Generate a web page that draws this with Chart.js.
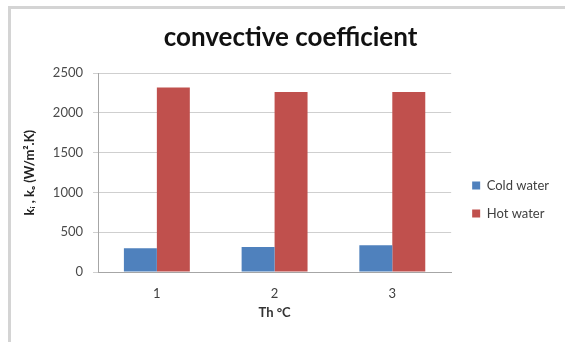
<!DOCTYPE html>
<html><head><meta charset="utf-8">
<script src="https://cdn.jsdelivr.net/npm/chart.js@4"></script>
<style>html,body{margin:0;padding:0;background:#fff;}#wrap{position:relative;width:565px;height:342px;}</style>
</head><body><div id="wrap"><canvas id="c" width="565" height="342"></canvas></div>
<script>
const categories = ['1', '2', '3'];
const coldWater = [300, 315, 335];
const hotWater = [2320, 2265, 2265];
const seriesNames = ['Cold water', 'Hot water'];
const seriesColors = ['#4F81BD', '#C0504D'];
const yTicks = [0, 500, 1000, 1500, 2000, 2500];
const chartTitle = 'convective coefficient';
const xTitle = 'Th °C';
const yTitle = 'kᵢ , kₒ (W/m².K)';

const frame = {
  id: 'frame',
  beforeDraw(chart) {
    const ctx = chart.ctx;
    ctx.save();
    ctx.strokeStyle = '#d4d4d4';
    ctx.lineWidth = 3;
    ctx.beginPath();
    ctx.moveTo(9.5, 342);
    ctx.lineTo(9.5, 7.5);
    ctx.lineTo(565, 7.5);
    ctx.stroke();
    ctx.restore();
  },
  afterLayout(chart) {
    const l = chart.legend;
    if (!l) return;
    const w = l.width, h = l.height;
    l.left = chart.chartArea.right + 6;
    l.right = l.left + w;
    l.top += 39;
    l.bottom = l.top + h;
  }
};

new Chart(document.getElementById('c'), {
  type: 'bar',
  data: {
    labels: categories,
    datasets: [
      { label: seriesNames[0], data: coldWater, backgroundColor: seriesColors[0], categoryPercentage: 0.56, barPercentage: 1 },
      { label: seriesNames[1], data: hotWater, backgroundColor: seriesColors[1], categoryPercentage: 0.56, barPercentage: 1 }
    ]
  },
  plugins: [frame],
  options: {
    responsive: false,
    animation: false,
    devicePixelRatio: 1,
    layout: { padding: { left: 28, right: 12, top: 0, bottom: 21 } },
    plugins: {
      title: { display: true, text: chartTitle, color: '#111', font: { family: 'Lato', size: 26, weight: 'bold' }, padding: { top: 22, bottom: 20 } },
      legend: { position: 'right', labels: { boxWidth: 8, boxHeight: 8, color: '#404040', font: { family: 'Lato', size: 13 }, padding: 15 } },
      tooltip: { enabled: false }
    },
    scales: {
      x: {
        grid: { display: false, drawTicks: false },
        border: { color: '#a6a6a6' },
        ticks: { color: '#404040', font: { family: 'Lato', size: 13 }, padding: 14 },
        title: { display: true, text: xTitle, color: '#333', font: { family: 'Lato', size: 13, weight: 'bold' }, padding: 0 },
        afterFit(s) { s.height = 49; }
      },
      y: {
        min: 0, max: 2500,
        afterBuildTicks(s) { s.ticks = yTicks.map(v => ({ value: v })); },
        grid: { color: '#cfcfcf', tickLength: 5 },
        border: { color: '#a6a6a6' },
        ticks: { color: '#4a4a4a', font: { family: 'Lato', size: 13 }, padding: 10, callback: v => String(v) },
        title: { display: true, text: yTitle, color: '#222', font: { family: 'Lato', size: 13, weight: 'bold' }, padding: { top: -6, bottom: 0 } },
        afterFit(s) { s.width = 70; }
      }
    }
  }
});
</script></body></html>
